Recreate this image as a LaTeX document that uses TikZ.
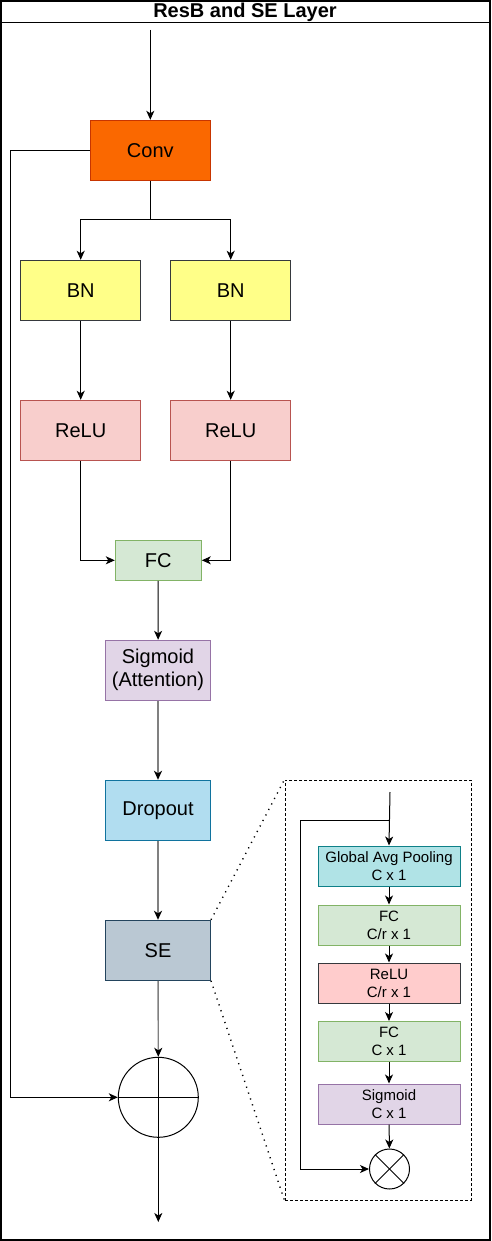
\documentclass[tikz,border=0pt]{standalone}
\usepackage{fontspec}
\setmainfont{Liberation Sans}
\usetikzlibrary{arrows.meta}
\definecolor{convF}{HTML}{FA6800}\definecolor{convD}{HTML}{C73500}
\definecolor{bnF}{HTML}{FFFF88}\definecolor{bnD}{HTML}{36393D}
\definecolor{reF}{HTML}{F8CECC}\definecolor{reD}{HTML}{B85450}
\definecolor{fcF}{HTML}{D5E8D4}\definecolor{fcD}{HTML}{82B366}
\definecolor{sgF}{HTML}{E1D5E7}\definecolor{sgD}{HTML}{9673A6}
\definecolor{doF}{HTML}{B1DDF0}\definecolor{doD}{HTML}{10739E}
\definecolor{seF}{HTML}{BAC8D3}\definecolor{seD}{HTML}{23445D}
\definecolor{gapF}{HTML}{B0E3E6}\definecolor{gapD}{HTML}{0E8088}
\definecolor{rsF}{HTML}{FFCCCC}
\tikzset{
  big/.style={draw, line width=1pt, font=\fontsize{20}{23}\selectfont, align=center, inner sep=0pt},
  small/.style={draw, line width=1pt, font=\fontsize{15}{18}\selectfont, align=center, inner sep=0pt, minimum width=142, minimum height=40},
  arr/.style={-{Stealth[length=9pt,width=8pt,inset=2.5pt]}, line width=1pt},
  garr/.style={-{Stealth[length=9pt,width=8pt,inset=2.5pt,color=black]}, line width=1.4pt, draw=black!50},
  ln/.style={line width=1pt}
}
\begin{document}
\begin{tikzpicture}[x=1pt,y=-1pt]
\useasboundingbox (0,0) rectangle (491,1241);
% frame
\draw[line width=1.6pt] (0.8,0.8) rectangle (490.2,1240.2);
\draw[line width=1pt] (0.8,23) -- (490.2,23);
\node[font=\fontsize{20}{23}\selectfont\bfseries] (title) at (245,12) {ResB and SE Layer};

% main column
\coordinate (in) at (150.3,30);
\node[big, fill=convF, draw=convD, minimum width=120, minimum height=60] (conv) at (150.3,150.3) {Conv};
\node[big, fill=bnF, draw=bnD, minimum width=120, minimum height=60] (bn1) at (80.7,290.3) {BN};
\node[big, fill=bnF, draw=bnD, minimum width=120, minimum height=60] (bn2) at (230.7,290.3) {BN};
\node[big, fill=reF, draw=reD, minimum width=120, minimum height=60] (re1) at (80.7,430.3) {ReLU};
\node[big, fill=reF, draw=reD, minimum width=120, minimum height=60] (re2) at (230.7,430.3) {ReLU};
\node[big, fill=fcF, draw=fcD, minimum width=86, minimum height=40] (fc) at (158.3,560.3) {FC};
\node[big, fill=sgF, draw=sgD, minimum width=105, minimum height=60] (sg) at (158,670.3) {Sigmoid\\(Attention)};
\node[big, fill=doF, draw=doD, minimum width=105, minimum height=60] (do) at (158,810.3) {Dropout};
\node[big, fill=seF, draw=seD, minimum width=105, minimum height=60] (se) at (158,950.3) {SE};
\node[circle, draw, line width=1pt, minimum size=80, inner sep=0pt] (add) at (158.3,1097.3) {};
\draw[ln] (add.north) -- (add.south);
\draw[ln] (add.west) -- (add.east);
\coordinate (out) at (158.3,1222);

\draw[arr] (in) -- (conv.north);
\coordinate (split) at (150.3,220);
\draw[ln] (conv.south) -- (split);
\draw[arr] (split) -| (bn1.north);
\draw[arr] (split) -| (bn2.north);
\draw[arr] (bn1) -- (re1);
\draw[arr] (bn2) -- (re2);
\draw[arr] (re1.south) |- (fc.west);
\draw[arr] (re2.south) |- (fc.east);
\draw[arr] (fc) -- (sg);
\draw[garr] (sg) -- (do);
\draw[garr] (do) -- (se);
\draw[garr] (se) -- (add.north);
\coordinate (lft) at (10.5,150.3);
\draw[ln] (conv.west) -- (lft);
\draw[arr] (lft) |- (add.west);
\draw[arr] (add.south) -- (out);

% inset
\node[draw, dash pattern=on 3pt off 2pt, line width=1pt, minimum width=186, minimum height=420, inner sep=0pt] (inset) at (378,990) {};
\draw[dash pattern=on 1.2pt off 5pt, line width=1.4pt] (se.north east) -- (inset.north west);
\draw[dash pattern=on 1.2pt off 5pt, line width=1.4pt] (se.south east) -- (inset.south west);

\coordinate (sin) at (390,792);
\coordinate (tap) at (390,820.5);
\node[small, fill=gapF, draw=gapD] (gap) at (389,866) {Global Avg Pooling\\C x 1};
\node[small, fill=fcF, draw=fcD] (fc1) at (389,925) {FC\\C/r x 1};
\node[small, fill=rsF, draw=bnD] (rs) at (389,983) {ReLU\\C/r x 1};
\node[small, fill=fcF, draw=fcD] (fc2) at (389,1041.5) {FC\\C x 1};
\node[small, fill=sgF, draw=sgD] (sg2) at (389,1104) {Sigmoid\\C x 1};
\node[circle, draw, line width=1pt, minimum size=40, inner sep=0pt] (mul) at (389.5,1169) {};
\draw[ln] (mul.north west) -- (mul.south east);
\draw[ln] (mul.north east) -- (mul.south west);

\draw[arr] (sin) -- (gap.north);
\draw[arr] (gap) -- (fc1);
\draw[arr] (fc1) -- (rs);
\draw[arr] (rs) -- (fc2);
\draw[arr] (fc2) -- (sg2);
\draw[arr] (sg2) -- (mul);
\draw[arr] (tap) -- (300.5,820.5) |- (mul.west);
\end{tikzpicture}
\end{document}
